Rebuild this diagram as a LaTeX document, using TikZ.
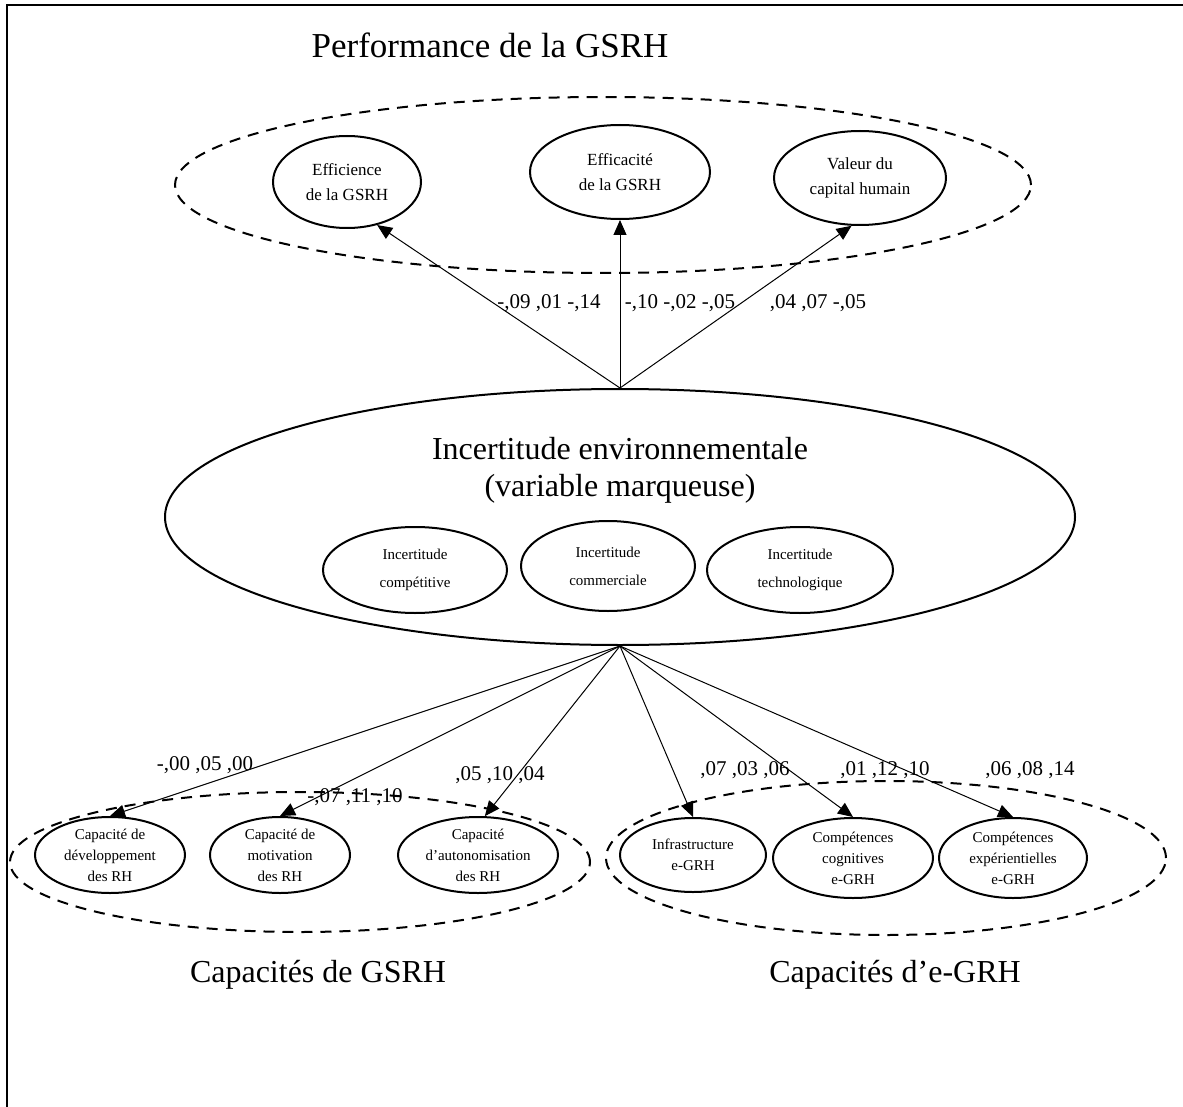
\documentclass[tikz,border=0pt]{standalone}
\usepackage{fontspec}
\setmainfont{Liberation Serif}
\usetikzlibrary{shapes.geometric,arrows.meta}
\begin{document}
\begin{tikzpicture}[x=1pt,y=-1pt,
  oval/.style={ellipse,draw,line width=2pt,inner sep=0pt,align=center},
  group/.style={ellipse,draw,line width=2pt,dash pattern=on 11pt off 8pt},
  link/.style={line width=1pt,-{Triangle[length=15pt,width=13pt]}},
  coef/.style={font=\fontsize{21}{23}\selectfont,inner sep=0pt},
  big/.style={font=\fontsize{32}{37}\selectfont},
  mid/.style={font=\fontsize{17}{25}\selectfont},
  small/.style={font=\fontsize{15}{28}\selectfont},
  tiny/.style={font=\fontsize{15}{21}\selectfont}]
\useasboundingbox (0,0) rectangle (1183,1107);
% frame
\draw[line width=2pt] (7,1107) -- (7,5) -- (1183,5);
% performance block
\node[big,font=\fontsize{35}{40}\selectfont] (perf) at (490,45) {Performance de la GSRH};
\node[group,minimum width=856pt,minimum height=176pt] (perfgrp) at (603,185) {};
\node[oval,mid,minimum width=148pt,minimum height=92pt] (effi) at (347,182) {Efficience\\de la GSRH};
\node[oval,mid,minimum width=180pt,minimum height=94pt] (effa) at (620,172) {Efficacité\\de la GSRH};
\node[oval,mid,minimum width=172pt,minimum height=94pt] (val) at (860,178) {Valeur du\\capital humain};
% environmental uncertainty
\node[ellipse,draw,line width=2pt,minimum width=910pt,minimum height=256pt] (inc) at (620,517) {};
\node[big,align=center] (inctxt) at (620,470) {Incertitude environnementale\\(variable marqueuse)};
\node[oval,small,minimum width=184pt,minimum height=86pt] (comp) at (415,570) {Incertitude\\compétitive};
\node[oval,small,minimum width=174pt,minimum height=90pt] (comm) at (608,566) {Incertitude\\commerciale};
\node[oval,small,minimum width=186pt,minimum height=86pt] (tech) at (800,570) {Incertitude\\technologique};
\coordinate (up) at (inc.north);
\coordinate (down) at (inc.south);
% GSRH capacities
\node[group,minimum width=580pt,minimum height=140pt] (gsrh) at (300,862) {};
\node[oval,tiny,minimum width=150pt,minimum height=76pt] (dev) at (110,855) {Capacité de\\développement\\des RH};
\node[oval,tiny,minimum width=140pt,minimum height=76pt] (mot) at (280,855) {Capacité de\\motivation\\des RH};
\node[oval,tiny,minimum width=160pt,minimum height=76pt] (aut) at (478,855) {Capacité\\d’autonomisation\\des RH};
\node[big] (gsrhlbl) at (318,975) {Capacités de GSRH};
% e-GRH capacities
\node[group,minimum width=560pt,minimum height=154pt] (egrh) at (886,858) {};
\node[oval,tiny,minimum width=146pt,minimum height=74pt] (infra) at (693,855) {Infrastructure\\e-GRH};
\node[oval,tiny,minimum width=160pt,minimum height=80pt] (cogn) at (853,858) {Compétences\\cognitives\\e-GRH};
\node[oval,tiny,minimum width=148pt,minimum height=80pt] (expe) at (1013,858) {Compétences\\expérientielles\\e-GRH};
\node[big] (egrhlbl) at (895,975) {Capacités d’e-GRH};
% effects on performance
\draw[link] (up) -- (effi.-55);
\draw[link] (up) -- (effa.south);
\draw[link] (up) -- (val.-100);
\node[coef] (c1) at (549,303) {-,09 ,01 -,14};
\node[coef] (c2) at (680,303) {-,10 -,02 -,05};
\node[coef] (c3) at (818,303) {,04 ,07 -,05};
% effects on capacities
\draw[link] (down) -- (dev.north);
\draw[link] (down) -- (mot.north);
\draw[link] (down) -- (aut.80);
\draw[link] (down) -- (infra.north);
\draw[link] (down) -- (cogn.north);
\draw[link] (down) -- (expe.north);
\node[coef] (c4) at (205,765) {-,00 ,05 ,00};
\node[coef] (c5) at (355,797) {-,07 ,11 ,10};
\node[coef] (c6) at (500,775) {,05 ,10 ,04};
\node[coef] (c7) at (745,770) {,07 ,03 ,06};
\node[coef] (c8) at (885,770) {,01 ,12 ,10};
\node[coef] (c9) at (1030,770) {,06 ,08 ,14};
\end{tikzpicture}
\end{document}
